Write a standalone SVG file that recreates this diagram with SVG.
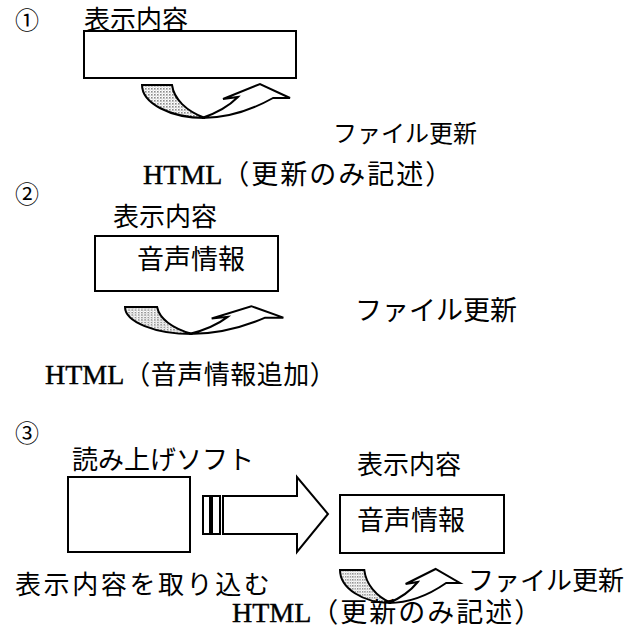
<svg xmlns="http://www.w3.org/2000/svg" xmlns:xlink="http://www.w3.org/1999/xlink" width="639" height="641" viewBox="0 0 639 641">
<style>
.jp{font-family:"Noto Sans CJK JP","Noto Sans",sans-serif;fill:#000}
.mix{font-family:"Liberation Serif","Noto Sans CJK JP",serif;fill:#000}
.html{font-size:28px;stroke:#000;stroke-width:0.4}
.cjk{font-family:"Noto Sans CJK JP",sans-serif}
.box{fill:#fff;stroke:#000;stroke-width:2}
.ln{stroke:#000;stroke-width:2;stroke-linejoin:miter;vector-effect:non-scaling-stroke}
</style>
<defs>
<pattern id="dots" width="3" height="3" patternUnits="userSpaceOnUse">
<rect width="3" height="3" fill="#fff"/>
<rect width="1.6" height="1.6" fill="#8a8a8a"/>
<rect x="1.5" y="1.5" width="1" height="1" fill="#b0b0b0"/>
</pattern>
<g id="curl">
<path class="ln" fill="#fff" d="M60,33 C90,33 115,22 131,13 L148,13 L118,-1 L81,14 L96,12 C88,20 75,28 60,33 Z"/>
<path class="ln" fill="url(#dots)" d="M0,0 L30,0 C32,14 44,26 63,33 C28,33 0,18 0,0 Z"/>
</g>
</defs>
<rect width="639" height="641" fill="#fff"/>

<g id="step1">
<text class="jp" x="15" y="29" font-size="24">①</text>
<text class="jp" x="84" y="29" font-size="26">表示内容</text>
<g id="display1"><rect class="box" x="84" y="31" width="212" height="47"/></g>
<g id="update1">
<use xlink:href="#curl" transform="translate(142,85)"/>
<text class="jp" x="333" y="142" font-size="24">ファイル更新</text>
</g>
<text class="mix" x="143" y="184" font-size="26"><tspan class="html">HTML</tspan><tspan class="cjk" font-size="27" letter-spacing="2">（更新のみ記述）</tspan></text>
</g>

<g id="step2">
<text class="jp" x="15" y="203" font-size="24">②</text>
<text class="jp" x="113" y="226" font-size="26">表示内容</text>
<g id="display2">
<rect class="box" x="95" y="236" width="183" height="55"/>
<text class="jp" x="137" y="269" font-size="27">音声情報</text>
</g>
<g id="update2">
<use xlink:href="#curl" transform="translate(125,307) scale(1.07,0.82)"/>
<text class="jp" x="355" y="320" font-size="27">ファイル更新</text>
</g>
<text class="mix" x="45" y="384" font-size="26"><tspan class="html">HTML</tspan><tspan class="cjk" font-size="26" letter-spacing="0.5">（音声情報追加）</tspan></text>
</g>

<g id="step3">
<text class="jp" x="15" y="442" font-size="24">③</text>
<g id="reader">
<text class="jp" x="72" y="469" font-size="26">読み上げソフト</text>
<rect class="box" x="68" y="477" width="122" height="75"/>
<text class="jp" x="15" y="594" font-size="26" letter-spacing="2.6">表示内容を取り込む</text>
</g>
<g id="connectors">
<rect class="box" x="203" y="496" width="7" height="38" stroke-width="1.6"/>
<rect class="box" x="212" y="496" width="8" height="38" stroke-width="1.6"/>
<polygon class="box" points="223,496 297,496 297,477 328,514 297,552 297,534 223,534"/>
</g>
<g id="display3">
<text class="jp" x="357" y="474" font-size="26">表示内容</text>
<rect class="box" x="340" y="495" width="164" height="58"/>
<text class="jp" x="357" y="530" font-size="27">音声情報</text>
</g>
<g id="update3">
<use xlink:href="#curl" transform="translate(340,570) scale(0.81,1.0)"/>
<text class="jp" x="468" y="590" font-size="26">ファイル更新</text>
</g>
<text class="mix" x="232" y="622" font-size="26"><tspan class="html">HTML</tspan><tspan class="cjk" font-size="27" letter-spacing="2">（更新のみ記述）</tspan></text>
</g>
</svg>
